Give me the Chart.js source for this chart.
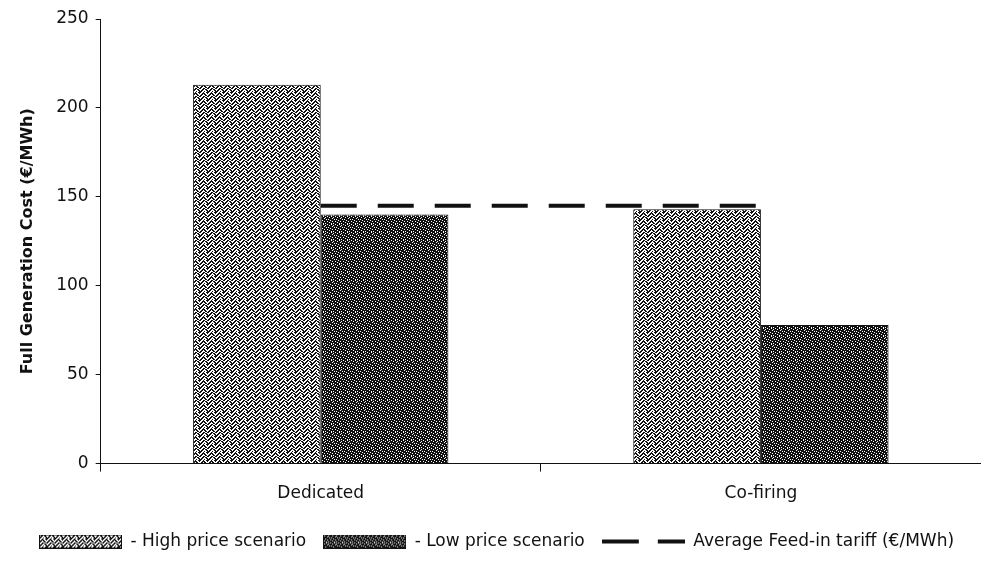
<!DOCTYPE html>
<html>
<head>
<meta charset="utf-8">
<script src="https://cdn.jsdelivr.net/npm/chart.js@4/dist/chart.umd.min.js"></script>
<style>
  html, body { margin: 0; padding: 0; background: #fff; overflow: hidden; }
  #wrap { width: 981px; height: 567px; }
</style>
</head>
<body>
<div id="wrap"><canvas id="costChart" width="981" height="567"></canvas></div>
<script>
// generation cost per option, two price scenarios, plus the average feed-in tariff
const categories = ["Dedicated", "Co-firing"];
const highPrice = [213, 143];
const lowPrice = [140, 78];
const feedInTariff = [145, 145];
const yTicks = [0, 50, 100, 150, 200, 250];

const FONT = "'DejaVu Sans', Arial, sans-serif";

// stipple tiles (1 = black pixel) to mimic the printed fill patterns
const highTile = [
  "10011001",
  "00110110",
  "01100011",
  "11001001",
  "10010011",
  "00111001",
  "01101100",
  "11000110",
];
const lowTile = [
  "11101110",
  "10111011",
  "11110111",
  "01111101",
  "11011111",
  "11110110",
  "10111111",
  "11101011",
];

function tileCanvas(rows) {
  const c = document.createElement("canvas");
  c.width = rows[0].length;
  c.height = rows.length;
  const g = c.getContext("2d");
  g.fillStyle = "#fff";
  g.fillRect(0, 0, c.width, c.height);
  g.fillStyle = "#111";
  rows.forEach((row, y) => {
    for (let x = 0; x < row.length; x++) {
      if (row[x] === "1") g.fillRect(x, y, 1, 1);
    }
  });
  return c;
}

function makePattern(rows) {
  const ctx = document.createElement("canvas").getContext("2d");
  return ctx.createPattern(tileCanvas(rows), "repeat");
}

// legend swatches are small canvases used as point styles
function swatchBox(rows) {
  const c = document.createElement("canvas");
  c.width = 83;
  c.height = 14;
  const g = c.getContext("2d");
  g.fillStyle = g.createPattern(tileCanvas(rows), "repeat");
  g.fillRect(0, 0, 83, 14);
  g.strokeStyle = "#111";
  g.lineWidth = 1;
  g.strokeRect(0.5, 0.5, 82, 13);
  return c;
}

function swatchDash() {
  const c = document.createElement("canvas");
  c.width = 83;
  c.height = 14;
  const g = c.getContext("2d");
  g.fillStyle = "#111";
  g.fillRect(0, 5, 37, 4);
  g.fillRect(56, 5, 27, 4);
  return c;
}

const highFill = makePattern(highTile);
const lowFill = makePattern(lowTile);
// keyed by dataset index
const legendStyles = [swatchBox(highTile), swatchBox(lowTile), swatchDash()];

new Chart(document.getElementById("costChart"), {
  type: "bar",
  data: {
    labels: categories,
    datasets: [
      {
        label: "- High price scenario",
        data: highPrice,
        backgroundColor: highFill,
        borderColor: "#111",
        borderWidth: 1,
        categoryPercentage: 0.58,
        barPercentage: 1.0,
        order: 2,
      },
      {
        label: "- Low price scenario",
        data: lowPrice,
        backgroundColor: lowFill,
        borderColor: "#111",
        borderWidth: 1,
        categoryPercentage: 0.58,
        barPercentage: 1.0,
        order: 2,
      },
      {
        type: "line",
        label: "Average Feed-in tariff (€/MWh)",
        data: feedInTariff,
        borderColor: "#111",
        backgroundColor: "#111",
        borderWidth: 4,
        borderDash: [36, 21],
        pointRadius: 0,
        fill: false,
        order: 1,
      },
    ],
  },
  options: {
    responsive: false,
    animation: false,
    events: [],
    layout: { padding: { top: 19, left: 12, right: 0, bottom: 7 } },
    scales: {
      x: {
        grid: {
          display: true,
          drawOnChartArea: false,
          drawTicks: true,
          tickLength: 8,
          color: "#111",
          offset: true,
        },
        border: { display: true, color: "#111", width: 1 },
        ticks: {
          color: "#111",
          padding: 12,
          font: { family: FONT, size: 17 },
        },
      },
      y: {
        min: 0,
        max: 250,
        afterBuildTicks: (axis) => {
          axis.ticks = yTicks.map((v) => ({ value: v }));
        },
        grid: {
          display: true,
          drawOnChartArea: false,
          tickLength: 5,
          color: "#111",
        },
        border: { display: true, color: "#111", width: 1 },
        ticks: {
          color: "#111",
          padding: 7,
          font: { family: FONT, size: 17 },
        },
        title: {
          display: true,
          text: "Full Generation Cost (€/MWh)",
          color: "#111",
          font: { family: FONT, size: 16, weight: "bold" },
          padding: { top: 6, bottom: 12 },
        },
      },
    },
    plugins: {
      tooltip: { enabled: false },
      legend: {
        position: "bottom",
        labels: {
          color: "#111",
          font: { family: FONT, size: 17 },
          usePointStyle: true,
          pointStyleWidth: 83,
          boxHeight: 14,
          padding: 17,
          sort: (a, b) => a.datasetIndex - b.datasetIndex,
          generateLabels: (chart) => {
            const items = Chart.defaults.plugins.legend.labels.generateLabels(chart);
            items.forEach((item) => {
              item.pointStyle = legendStyles[item.datasetIndex];
            });
            return items;
          },
        },
      },
    },
  },
});
</script>
</body>
</html>
